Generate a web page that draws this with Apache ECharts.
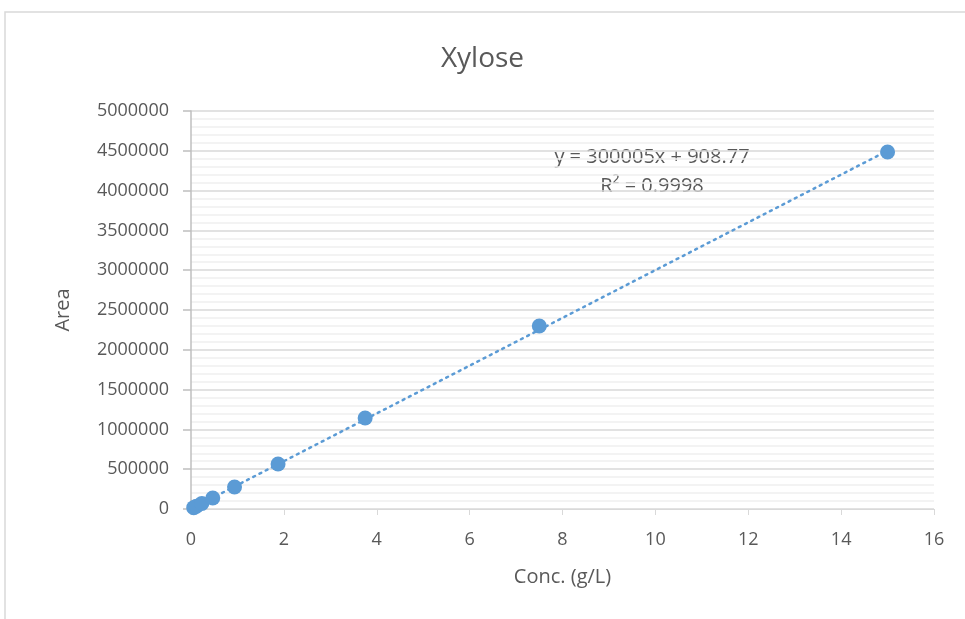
<!DOCTYPE html>
<html><head><meta charset="utf-8">
<script src="https://cdn.jsdelivr.net/npm/echarts@6/dist/echarts.min.js"></script>
<style>html,body{margin:0;padding:0;background:#fff}#c{width:965px;height:619px}</style>
</head><body><div id="c"></div>
<script>
const concentrations = [0.0586, 0.117, 0.234, 0.469, 0.9375, 1.875, 3.75, 7.5, 15];
const areas = [17000, 36000, 70000, 138000, 276000, 565000, 1143000, 2299000, 4485000];
const slope = 300005, intercept = 908.77;
const trendX = [0, 15];
const xTicks = [0, 16, 2];
const yTicks = [0, 5000000, 500000];
const FONT = '"Open Sans", "Noto Sans", sans-serif';
const GREY = '#595959';

const chart = echarts.init(document.getElementById('c'), null, {renderer: 'canvas'});
chart.setOption({
  animation: false,
  backgroundColor: '#fff',
  title: {text: 'Xylose', left: 'center', top: 40, textStyle: {fontFamily: FONT, fontSize: 28, fontWeight: 'normal', color: GREY}},
  grid: {left: 191, right: 31, top: 111, bottom: 110},
  xAxis: {
    type: 'value', min: xTicks[0], max: xTicks[1], interval: xTicks[2],
    name: 'Conc. (g/L)', nameLocation: 'middle', nameGap: 58,
    nameTextStyle: {fontFamily: FONT, fontSize: 20, color: GREY},
    axisLine: {show: true, lineStyle: {color: '#d9d9d9', width: 1}},
    axisTick: {show: true, length: 6, lineStyle: {color: '#d9d9d9'}},
    axisLabel: {fontFamily: FONT, fontSize: 18, color: GREY, margin: 22},
    splitLine: {show: false}
  },
  yAxis: {
    type: 'value', min: yTicks[0], max: yTicks[1], interval: yTicks[2],
    name: 'Area', nameLocation: 'middle', nameGap: 118, nameRotate: 90,
    nameTextStyle: {fontFamily: FONT, fontSize: 20, color: GREY},
    axisLine: {show: true, lineStyle: {color: '#bfbfbf', width: 1.5}},
    axisTick: {show: true, inside: false, length: 8, lineStyle: {color: '#bfbfbf', width: 1.5}},
    axisLabel: {fontFamily: FONT, fontSize: 18, color: GREY, margin: 22, formatter: v => String(v)},
    splitLine: {show: true, lineStyle: {color: '#d9d9d9', width: 1.5}},
    minorTick: {show: false, splitNumber: 5},
    minorSplitLine: {show: true, lineStyle: {color: '#efefef', width: 1.5}}
  },
  series: [
    {
      type: 'line', data: trendX.map(x => [x, slope * x + intercept]),
      symbol: 'none', silent: true,
      lineStyle: {color: '#5B9BD5', width: 2.5, type: [2, 5], cap: 'round'}, z: 2
    },
    {
      type: 'scatter', data: concentrations.map((c, i) => [c, areas[i]]),
      symbol: 'circle', symbolSize: 15,
      itemStyle: {color: '#5B9BD5', opacity: 1}, z: 3
    }
  ],
  graphic: [
    {type: 'rect', shape: {x: 5, y: 12, width: 1000, height: 700}, style: {fill: 'none', stroke: '#d9d9d9', lineWidth: 1.5}, silent: true},
    {type: 'text', x: 652, y: 157, style: {text: 'y = 300005x + 908.77', font: '20px ' + FONT, fill: GREY, textAlign: 'center', textVerticalAlign: 'middle'}},
    {type: 'text', x: 652, y: 186, style: {text: 'R² = 0.9998', font: '20px ' + FONT, fill: GREY, textAlign: 'center', textVerticalAlign: 'middle'}}
  ]
});
</script></body></html>
